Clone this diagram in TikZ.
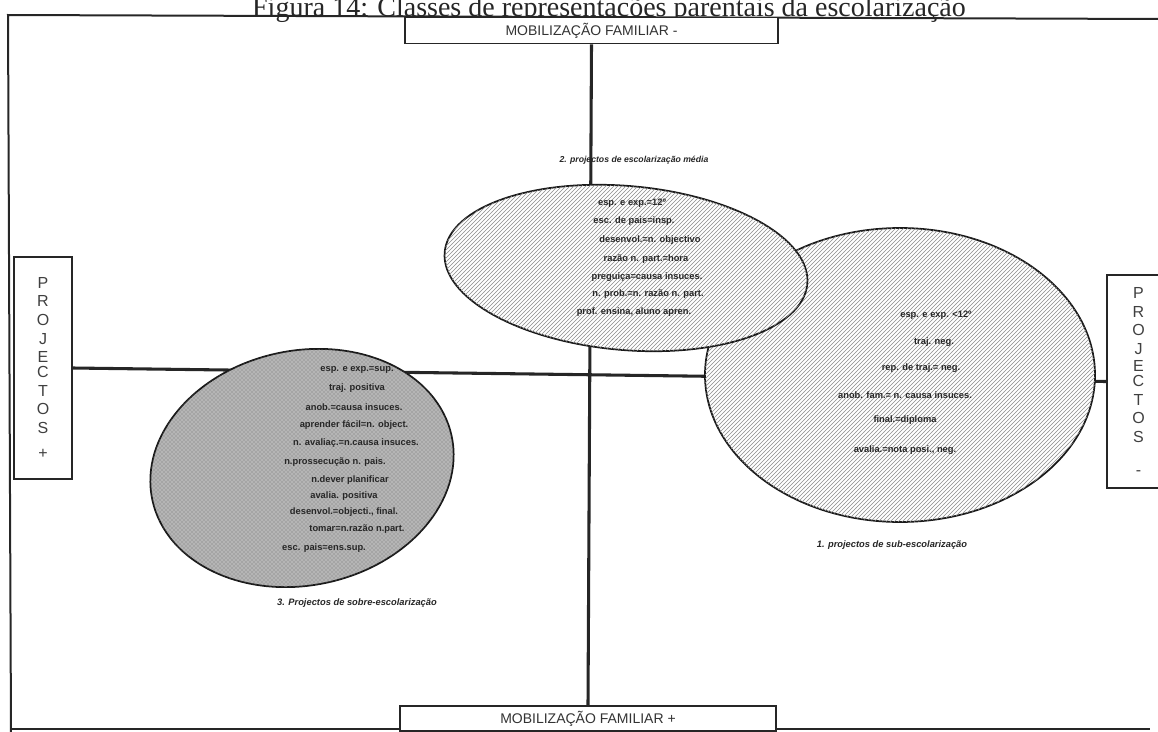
\documentclass[tikz,border=0pt]{standalone}
\usepackage{fontspec}
\setmainfont{Liberation Serif}
\setsansfont{Liberation Sans}
\usetikzlibrary{patterns,shapes.geometric}
\begin{document}
\begin{tikzpicture}[x=0.75pt,y=-0.75pt,
  frameline/.style={draw=black!85,line width=1.5pt},
  axisline/.style={draw=black!85,line width=2.3pt},
  axisbox/.style={draw=black!85,line width=1.4pt,fill=white,inner sep=0pt,
    font=\sffamily\fontsize{10.5}{12}\selectfont,text=black!80},
  sidebox/.style={draw=black!85,line width=1.4pt,fill=white,inner sep=0pt,
    align=center,font=\sffamily\fontsize{12}{14}\selectfont,text=black!75},
  blob/.style={ellipse,draw=black!90,line width=1.3pt,inner sep=0pt,outer sep=0pt},
  hatchfill/.style={fill=white,postaction={pattern=north east lines,pattern color=black!45}},
  dotfill/.style={fill=gray!58,postaction={pattern=crosshatch dots,pattern color=black!55}},
  item/.style={font=\sffamily\bfseries\fontsize{7}{8}\selectfont,text=black!85,inner sep=0pt},
  caption/.style={font=\sffamily\bfseries\itshape\fontsize{7}{8}\selectfont,text=black!85,inner sep=0pt},
]
\useasboundingbox (0,0) rectangle (1158,732);

% heading
\node[font=\fontsize{21}{24}\selectfont,anchor=base,text=black!85,inner sep=0pt]
  (title) at (609,16) {Figura 14: Classes de representações parentais da escolarização};

% outer frame
\coordinate (ftl) at (8,15);
\coordinate (ftr) at (1160,19);
\coordinate (fbl) at (11,733);
\coordinate (bl) at (11,729);
\coordinate (br) at (1150,729);
\draw[frameline] (ftr) -- (ftl) -- (fbl);
\draw[frameline] (bl) -- (br);

% axis labels
\node[axisbox,minimum width=279.75pt,minimum height=19.5pt] (top) at (591.5,30.5) {MOBILIZAÇÃO FAMILIAR -};
\node[axisbox,minimum width=282pt,minimum height=18.75pt] (bottom) at (588,718.5) {MOBILIZAÇÃO FAMILIAR +};
\node[sidebox,minimum width=43.5pt,minimum height=166.5pt] (left) at (43,368)
  {P\\R\\O\\J\\E\\[-3pt]C\\T\\O\\S\\[5pt]+};
\node[sidebox,minimum width=47.25pt,minimum height=159.75pt] (right) at (1138.5,381.5)
  {P\\R\\O\\J\\[-1pt]E\\[-3pt]C\\T\\O\\S\\[11pt]-};

% axes
\draw[axisline] (top.south) -- (bottom.north);
\draw[axisline] (left.east) -- (right.west);

% class 3: over-schooling
\node[blob,dotfill,minimum width=229.5pt,minimum height=176pt,rotate=12] (sobre) at (302,468) {};
\foreach \y/\cx/\t [count=\i] in {
  370/357/{esp. e exp.=sup.},
  388/357/{traj. positiva},
  407/354/{anob.=causa insuces.},
  425/354/{aprender fácil=n. object.},
  443/356/{n. avaliaç.=n.causa insuces.},
  462/335/{n.prossecução n. pais.},
  480/350/{n.dever planificar},
  496/344/{avalia. positiva},
  512/344/{desenvol.=objecti., final.},
  529/357/{tomar=n.razão n.part.},
  548/324/{esc. pais=ens.sup.}}
  \node[item] (sobre-\i) at (\cx,\y) {\t};
\node[caption] (sobre-cap) at (357,603) {3. Projectos de sobre-escolarização};

% class 1: under-schooling
\node[blob,hatchfill,minimum width=292.5pt,minimum height=220.5pt] (sub) at (900,375) {};
\foreach \y/\cx/\t [count=\i] in {
  315/936/{esp. e exp. <12º},
  342/934/{traj. neg.},
  368/921/{rep. de traj.= neg.},
  395/905/{anob. fam.= n. causa insuces.},
  420/905/{final.=diploma},
  450/905/{avalia.=nota posi., neg.}}
  \node[item] (sub-\i) at (\cx,\y) {\t};
\node[caption] (sub-cap) at (892,545) {1. projectos de sub-escolarização};

% class 2: average schooling
\node[blob,hatchfill,minimum width=273pt,minimum height=123pt,rotate=-5] (media) at (626,268) {};
\foreach \y/\cx/\t [count=\i] in {
  203/632/{esp. e exp.=12º},
  221/634/{esc. de pais=insp.},
  240/650/{desenvol.=n. objectivo},
  259/646/{razão n. part.=hora},
  277/647/{preguiça=causa insuces.},
  294/648/{n. prob.=n. razão n. part.},
  312/634/{prof. ensina, aluno apren.}}
  \node[item] (media-\i) at (\cx,\y) {\t};
\node[caption,font=\sffamily\bfseries\itshape\fontsize{6.5}{8}\selectfont] (media-cap) at (634,160) {2. projectos de escolarização média};

\end{tikzpicture}
\end{document}
